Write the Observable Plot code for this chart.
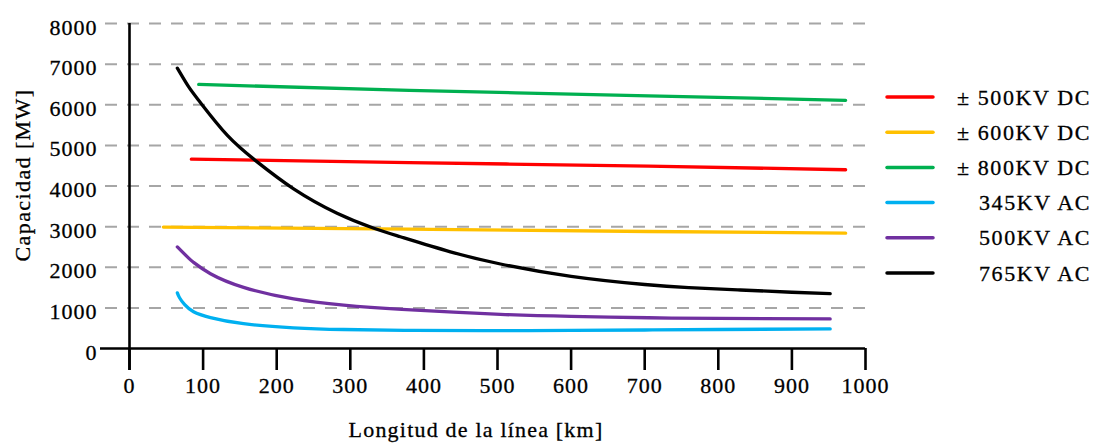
<!DOCTYPE html>
<html>
<head>
<meta charset="utf-8">
<script src="https://cdn.jsdelivr.net/npm/d3@7"></script>
<script src="https://cdn.jsdelivr.net/npm/@observablehq/plot@0.6"></script>
<style>
  html, body { margin: 0; padding: 0; background: #fff; }
  #chart { width: 1094px; height: 447px; }
  #chart svg text { font-family: "Liberation Serif", "Times New Roman", Times, serif; stroke: #000; stroke-width: 0.3px; }
</style>
</head>
<body>
<div id="chart"></div>
<script>
// ---- data ----
const seriesNames = ["± 500KV DC", "± 600KV DC", "± 800KV DC", "345KV AC", "500KV AC", "765KV AC"];
const seriesColors = ["#ff0000", "#ffc000", "#00b050", "#00b0f0", "#7030a0", "#000000"];

const dc500_x = [84, 380, 705, 973];
const dc500_y = [4660, 4575, 4490, 4400];

const dc600_x = [46, 380, 705, 973];
const dc600_y = [2990, 2936, 2880, 2840];

const dc800_x = [94, 380, 705, 973];
const dc800_y = [6500, 6355, 6220, 6110];

const ac345_x = [65, 68, 75, 87, 110, 155, 223, 291, 380, 480, 600, 700, 800, 952];
const ac345_y = [1370, 1250, 1080, 905, 760, 610, 510, 468, 446, 438, 444, 455, 468, 483];

const ac500_x = [65, 80, 87, 110, 155, 223, 291, 370, 504, 600, 705, 800, 952];
const ac500_y = [2500, 2230, 2120, 1840, 1505, 1220, 1070, 965, 840, 790, 757, 740, 728];

const ac765_x = [65, 80, 96, 133, 173, 223, 282, 332, 368, 436, 504, 600, 700, 760, 830, 900, 952];
const ac765_y = [6900, 6450, 6060, 5245, 4600, 3930, 3330, 2960, 2750, 2380, 2080, 1775, 1575, 1500, 1440, 1385, 1350];

const xTicks = [0, 100, 200, 300, 400, 500, 600, 700, 800, 900, 1000];
const yTicks = [0, 1000, 2000, 3000, 4000, 5000, 6000, 7000, 8000];
const yGrid = [1000, 2000, 3000, 4000, 5000, 6000, 7000, 8000];

const xTitle = "Longitud de la línea [km]";
const yTitle = "Capacidad [MW]";

// ---- build table ----
const seriesX = [dc500_x, dc600_x, dc800_x, ac345_x, ac500_x, ac765_x];
const seriesY = [dc500_y, dc600_y, dc800_y, ac345_y, ac500_y, ac765_y];
const rows = [];
seriesNames.forEach((name, i) => {
  seriesX[i].forEach((x, j) => rows.push({series: name, x, y: seriesY[i][j]}));
});

const W = 1094, H = 447;
const FONT = "Liberation Serif";

const chart = Plot.plot({
  width: W,
  height: H,
  marginLeft: 129,
  marginRight: 229,
  marginTop: 23,
  marginBottom: 99,
  style: {fontFamily: FONT, fontSize: "22px", background: "#fff", color: "#000", letterSpacing: "1px", overflow: "visible"},
  x: {domain: [0, 1000]},
  y: {domain: [0, 8000]},
  color: {domain: seriesNames, range: seriesColors},
  marks: [
    Plot.ruleY(yGrid, {stroke: "#a6a6a6", strokeWidth: 2, strokeDasharray: "12,10", insetLeft: -24}),
    Plot.line(rows, {x: "x", y: "y", z: "series", stroke: "series", strokeWidth: 3.3, curve: "natural", strokeLinecap: "round"}),
    Plot.ruleY([0], {stroke: "#000", strokeWidth: 2.6, insetLeft: -29}),
    Plot.ruleX([0], {stroke: "#000", strokeWidth: 2.6, insetBottom: -22}),
    Plot.axisX({ticks: xTicks, tickSize: 22, tickPadding: 7, strokeWidth: 2.6, stroke: "#000", fill: "#000", label: null, tickFormat: d => String(d)}),
    Plot.axisY({ticks: yTicks, tickSize: 0, tickPadding: 32, fill: "#000", label: null, dy: 4, tickFormat: d => String(d)})
  ]
});

const svg = d3.select(chart);

// axis titles
svg.append("text")
  .attr("x", 476).attr("y", 437)
  .attr("text-anchor", "middle")
  .attr("font-family", FONT).attr("font-size", 22).attr("fill", "#000")
  .style("letter-spacing", "1.2px")
  .text(xTitle);

svg.append("text")
  .attr("transform", "translate(30,175) rotate(-90)")
  .attr("text-anchor", "middle")
  .attr("font-family", FONT).attr("font-size", 22).attr("fill", "#000")
  .style("letter-spacing", "1.4px")
  .text(yTitle);

// legend
const lg = svg.append("g");
seriesNames.forEach((name, i) => {
  const cy = 97 + i * 35.2;
  lg.append("line")
    .attr("x1", 887).attr("x2", 933).attr("y1", cy).attr("y2", cy)
    .attr("stroke", seriesColors[i]).attr("stroke-width", 3.5).attr("stroke-linecap", "round");
  lg.append("text")
    .attr("x", 1091).attr("y", cy + 7.5)
    .attr("text-anchor", "end")
    .attr("font-family", FONT).attr("font-size", 22).attr("fill", "#000")
    .style("letter-spacing", "1.6px")
    .text(name);
});

document.getElementById("chart").appendChild(chart);
</script>
</body>
</html>
